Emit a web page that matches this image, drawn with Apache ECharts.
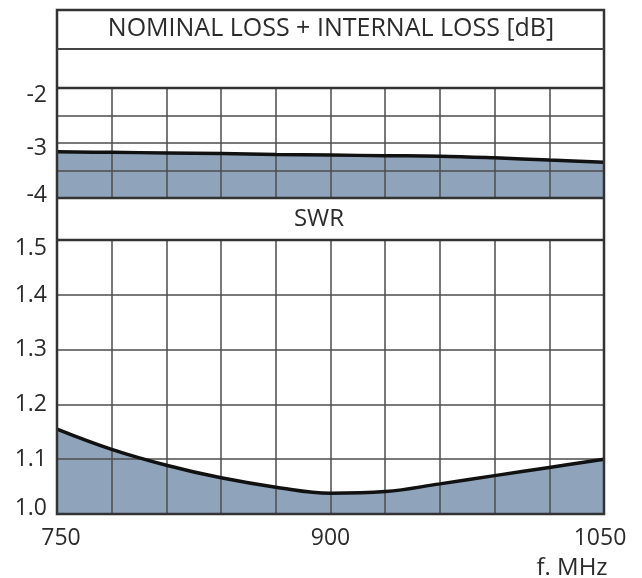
<!DOCTYPE html>
<html>
<head>
<meta charset="utf-8">
<script src="https://cdn.jsdelivr.net/npm/echarts@6/dist/echarts.min.js"></script>
<style>
html,body{margin:0;padding:0;background:#fff;}
#chart{width:642px;height:578px;}
</style>
</head>
<body>
<div id="chart"></div>
<script>
// Data
const freqs = [750, 780, 810, 840, 870, 900, 930, 960, 990, 1020, 1050];
const lossValues = [-3.16, -3.17, -3.18, -3.19, -3.21, -3.22, -3.23, -3.24, -3.27, -3.31, -3.35];
const swrValues = [1.155, 1.118, 1.089, 1.066, 1.049, 1.038, 1.041, 1.055, 1.070, 1.085, 1.100];
const xTickLabels = [750, 900, 1050];
const lossTickLabels = [-2, -3, -4];
const swrTickLabels = [1.0, 1.1, 1.2, 1.3, 1.4, 1.5];
const lossTitle = 'NOMINAL LOSS + INTERNAL LOSS [dB]';
const swrTitle = 'SWR';
const xUnit = 'f. MHz';

const lossData = freqs.map((f, i) => [f, lossValues[i]]);
const swrData = freqs.map((f, i) => [f, swrValues[i]]);

const FONT = 'Open Sans';
const TXT = '#2b2b2b';
const GRIDC = '#4d4d4d';
const FILL = '#8fa3bb';
const L = 57, R = 604, W = R - L;

const chart = echarts.init(document.getElementById('chart'), null, {renderer: 'canvas'});

const labelBase = {color: TXT, fontFamily: FONT, fontSize: 23};
const rich = {
  dn14: Object.assign({}, labelBase, {padding: [14, 0, 0, 0]}),
  dn10: Object.assign({}, labelBase, {padding: [10, 0, 0, 0]}),
  dn16: Object.assign({}, labelBase, {padding: [16, 0, 0, 0]}),
  dn2: Object.assign({}, labelBase, {padding: [2, 0, 0, 0]}),
  up6: Object.assign({}, labelBase, {padding: [0, 0, 6, 0]}),
  up12: Object.assign({}, labelBase, {padding: [0, 0, 12, 0]}),
  rt: Object.assign({}, labelBase, {padding: [0, 0, 0, 8]}),
  lt: Object.assign({}, labelBase, {padding: [0, 8, 0, 0]}),
  n: Object.assign({}, labelBase)
};

function xAxis(gridIndex, showLabels) {
  return {
    type: 'value', gridIndex, min: 750, max: 1050, interval: 30, z: 3,
    axisLine: {show: false}, axisTick: {show: false},
    splitLine: {show: true, lineStyle: {color: GRIDC, width: 1.5}},
    axisLabel: {
      show: showLabels, margin: 13, rich,
      formatter: v => {
        if (!xTickLabels.includes(v)) return '';
        const s = v === 750 ? 'rt' : (v === 1050 ? 'lt' : 'n');
        return '{' + s + '|' + v + '}';
      }
    }
  };
}

const option = {
  animation: false,
  backgroundColor: '#fff',
  title: [
    {text: lossTitle, top: 11, left: 326, textAlign: 'center', textStyle: {fontFamily: FONT, fontSize: 25, fontWeight: 'normal', color: TXT}},
    {text: swrTitle, top: 202, left: 314, textAlign: 'center', textStyle: {fontFamily: FONT, fontSize: 24, fontWeight: 'normal', color: TXT}},
    {text: xUnit, top: 551, left: 567, textAlign: 'center', textStyle: {fontFamily: FONT, fontSize: 24, fontWeight: 'normal', color: TXT}}
  ],
  grid: [
    {left: L, top: 88, width: W, height: 110},
    {left: L, top: 240, width: W, height: 274}
  ],
  xAxis: [xAxis(0, false), xAxis(1, true)],
  yAxis: [
    {
      type: 'value', gridIndex: 0, min: -4, max: -2, interval: 0.5, z: 3,
      axisLine: {show: false}, axisTick: {show: false},
      splitLine: {show: true, lineStyle: {color: GRIDC, width: 1.5}},
      axisLabel: {margin: 10, rich,
        formatter: v => {
          if (!lossTickLabels.includes(v)) return '';
          const s = v === -2 ? 'dn14' : (v === -3 ? 'dn10' : 'up6');
          return '{' + s + '|' + v + '}';
        }}
    },
    {
      type: 'value', gridIndex: 1, min: 1.0, max: 1.5, interval: 0.1, z: 3,
      axisLine: {show: false}, axisTick: {show: false},
      splitLine: {show: true, lineStyle: {color: GRIDC, width: 1.5}},
      axisLabel: {margin: 10, rich,
        formatter: v => {
          const r = Math.round(v * 10) / 10;
          if (!swrTickLabels.includes(r)) return '';
          const s = r === 1.5 ? 'dn16' : (r === 1.0 ? 'up12' : (r === 1.4 ? 'dn2' : 'n'));
          return '{' + s + '|' + r.toFixed(1) + '}';
        }}
    }
  ],
  series: [
    {type: 'line', xAxisIndex: 0, yAxisIndex: 0, data: lossData, smooth: 0.4, symbol: 'none', z: 1,
      lineStyle: {width: 0}, areaStyle: {color: FILL, opacity: 1, origin: 'start'}},
    {type: 'line', xAxisIndex: 0, yAxisIndex: 0, data: lossData, smooth: 0.4, symbol: 'none', z: 5,
      lineStyle: {width: 3.5, color: '#111'}},
    {type: 'line', xAxisIndex: 1, yAxisIndex: 1, data: swrData, smooth: 0.4, symbol: 'none', z: 1,
      lineStyle: {width: 0}, areaStyle: {color: FILL, opacity: 1, origin: 'start'}},
    {type: 'line', xAxisIndex: 1, yAxisIndex: 1, data: swrData, smooth: 0.4, symbol: 'none', z: 5,
      lineStyle: {width: 3.5, color: '#111'}}
  ],
  graphic: [
    {type: 'rect', z: 10, shape: {x: L, y: 10, width: W, height: 504}, style: {fill: null, stroke: '#333', lineWidth: 2.5}},
    {type: 'line', z: 10, shape: {x1: L, y1: 49, x2: R, y2: 49}, style: {stroke: '#444', lineWidth: 2}},
    {type: 'line', z: 10, shape: {x1: L, y1: 88, x2: R, y2: 88}, style: {stroke: '#333', lineWidth: 2.5}},
    {type: 'line', z: 10, shape: {x1: L, y1: 198, x2: R, y2: 198}, style: {stroke: '#333', lineWidth: 2.5}},
    {type: 'line', z: 10, shape: {x1: L, y1: 240, x2: R, y2: 240}, style: {stroke: '#333', lineWidth: 2.5}}
  ]
};
chart.setOption(option);
</script>
</body>
</html>
